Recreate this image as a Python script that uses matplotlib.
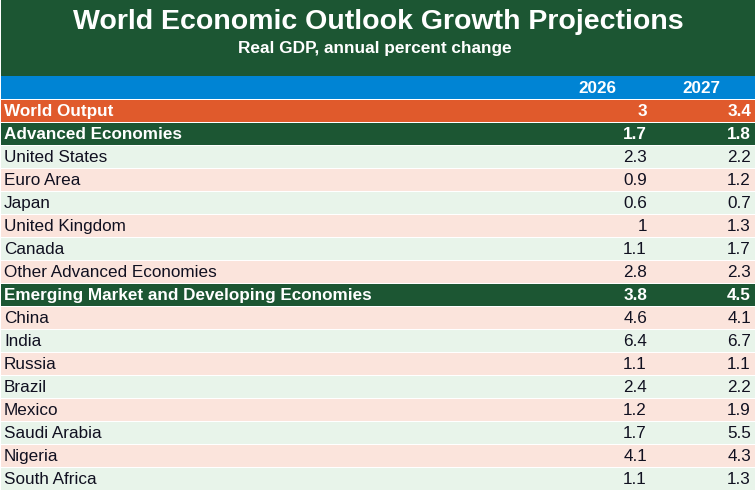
import matplotlib
matplotlib.use("Agg")
import matplotlib.pyplot as plt
from matplotlib.patches import Rectangle

plt.rcParams['font.family'] = ['Liberation Sans', 'DejaVu Sans']

title = "World Economic Outlook Growth Projections"
subtitle = "Real GDP, annual percent change"
years = ["2026", "2027"]
labels = ["World Output", "Advanced Economies", "United States", "Euro Area", "Japan",
          "United Kingdom", "Canada", "Other Advanced Economies",
          "Emerging Market and Developing Economies", "China", "India", "Russia",
          "Brazil", "Mexico", "Saudi Arabia", "Nigeria", "South Africa"]
v2026 = [3, 1.7, 2.3, 0.9, 0.6, 1, 1.1, 2.8, 3.8, 4.6, 6.4, 1.1, 2.4, 1.2, 1.7, 4.1, 1.1]
v2027 = [3.4, 1.8, 2.2, 1.2, 0.7, 1.3, 1.7, 2.3, 4.5, 4.1, 6.7, 1.1, 2.2, 1.9, 5.5, 4.3, 1.3]
kinds = ["world", "group", "c", "c", "c", "c", "c", "c", "group",
         "c", "c", "c", "c", "c", "c", "c", "c"]

DARK = "#1c5633"
BLUE = "#0084d4"
ORANGE = "#e05a2c"
LGREEN = "#e8f4ea"
PINK = "#fbe4dc"
TXT = "#101020"

W, H = 756, 492
fig = plt.figure(figsize=(W / 100, H / 100), dpi=100)
ax = fig.add_axes([0, 0, 1, 1])
ax.set_xlim(0, W)
ax.set_ylim(H, 0)
ax.axis("off")

FS = 12.3
x0, x1 = 1, 755
# title band
ax.add_patch(Rectangle((x0, 0), x1 - x0, 76, color=DARK, lw=0))
ax.text(W / 2, 29, title, ha="center", va="baseline", color="white",
        fontsize=20.5, fontweight="bold")
ax.text(W / 2 - 3, 53, subtitle, ha="center", va="baseline", color="white",
        fontsize=12.4, fontweight="bold")
# header
ax.add_patch(Rectangle((x0, 76), x1 - x0, 22.5, color=BLUE, lw=0))
ax.text(616, 93, years[0], ha="right", va="baseline", color="white",
        fontsize=FS, fontweight="bold")
ax.text(720, 93, years[1], ha="right", va="baseline", color="white",
        fontsize=FS, fontweight="bold")

def fmt(v):
    return f"{v:g}"

for i, (lab, a, b, k) in enumerate(zip(labels, v2026, v2027, kinds)):
    top = 99 + 23 * i
    if k == "world":
        bg, fc, fw = ORANGE, "white", "bold"
    elif k == "group":
        bg, fc, fw = DARK, "white", "bold"
    else:
        bg, fc, fw = (LGREEN if i % 2 == 0 else PINK), TXT, "normal"
    ax.add_patch(Rectangle((x0, top + 0.5), x1 - x0, 22, color=bg, lw=0))
    base = top + 17
    ax.text(4, base, lab, ha="left", va="baseline", color=fc, fontsize=FS, fontweight=fw)
    ax.text(647, base, fmt(a), ha="right", va="baseline", color=fc, fontsize=FS, fontweight=fw)
    ax.text(751, base, fmt(b), ha="right", va="baseline", color=fc, fontsize=FS, fontweight=fw)

fig.savefig("out.png", dpi=100, facecolor="white")
